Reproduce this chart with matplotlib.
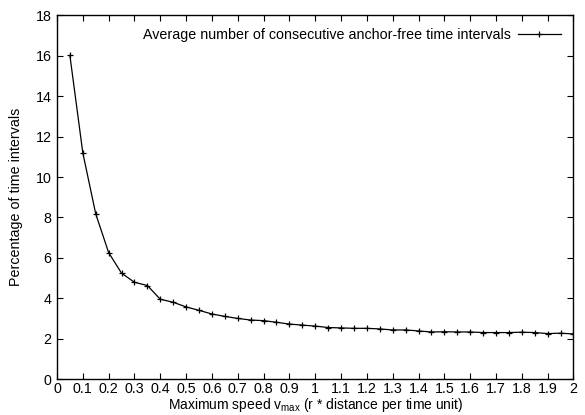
import matplotlib
matplotlib.use("Agg")
import matplotlib.pyplot as plt

plt.rcParams['font.family'] = ['Liberation Sans', 'DejaVu Sans']
plt.rcParams['mathtext.fontset'] = 'custom'
plt.rcParams['mathtext.rm'] = 'Liberation Sans'

speed = [0.05, 0.1, 0.15, 0.2, 0.25, 0.3, 0.35, 0.4, 0.45, 0.5,
         0.55, 0.6, 0.65, 0.7, 0.75, 0.8, 0.85, 0.9, 0.95, 1.0,
         1.05, 1.1, 1.15, 1.2, 1.25, 1.3, 1.35, 1.4, 1.45, 1.5,
         1.55, 1.6, 1.65, 1.7, 1.75, 1.8, 1.85, 1.9, 1.95, 2.0]
avg_intervals = [16.02, 11.2, 8.18, 6.26, 5.24, 4.79, 4.63, 3.95, 3.80, 3.57,
                 3.40, 3.22, 3.10, 3.00, 2.92, 2.89, 2.81, 2.72, 2.67, 2.62,
                 2.55, 2.53, 2.51, 2.51, 2.48, 2.43, 2.43, 2.38, 2.33, 2.34,
                 2.33, 2.33, 2.30, 2.30, 2.30, 2.32, 2.30, 2.25, 2.27, 2.23]
xticks = [0, 0.1, 0.2, 0.3, 0.4, 0.5, 0.6, 0.7, 0.8, 0.9, 1,
          1.1, 1.2, 1.3, 1.4, 1.5, 1.6, 1.7, 1.8, 1.9, 2]
xtick_labels = ['0', '0.1', '0.2', '0.3', '0.4', '0.5', '0.6', '0.7', '0.8', '0.9', '1',
                '1.1', '1.2', '1.3', '1.4', '1.5', '1.6', '1.7', '1.8', '1.9', '2']
yticks = [0, 2, 4, 6, 8, 10, 12, 14, 16, 18]

FS = 10.3

fig = plt.figure(figsize=(5.85, 4.15), dpi=100)
ax = fig.add_axes([0.0974, 0.0867, 0.9803 - 0.0974, 0.9627 - 0.0867])

ax.plot(speed, avg_intervals, color='black', linewidth=0.9, marker='+',
        markersize=5, markeredgewidth=0.9,
        label='Average number of consecutive anchor-free time intervals')

ax.set_xlim(0, 2)
ax.set_ylim(0, 18)
ax.set_xticks(xticks)
ax.set_xticklabels(xtick_labels)
ax.set_yticks(yticks)
ax.tick_params(direction='in', top=True, right=True, length=4, width=0.8,
               labelsize=FS, pad=4, colors='black')
ax.tick_params(axis='x', pad=2.5)
for s in ax.spines.values():
    s.set_linewidth(1.0)

ax.set_xlabel('Maximum speed v$_{\\mathrm{max}}$ (r * distance per time unit)',
              fontsize=10, labelpad=-0.5)
ax.set_ylabel('Percentage of time intervals', fontsize=FS, labelpad=9)

leg = ax.legend(loc='upper right', frameon=False, markerfirst=False,
                fontsize=FS, handlelength=3.0, borderaxespad=0.5,
                handletextpad=0.5)

fig.savefig('out.png', dpi=100)
